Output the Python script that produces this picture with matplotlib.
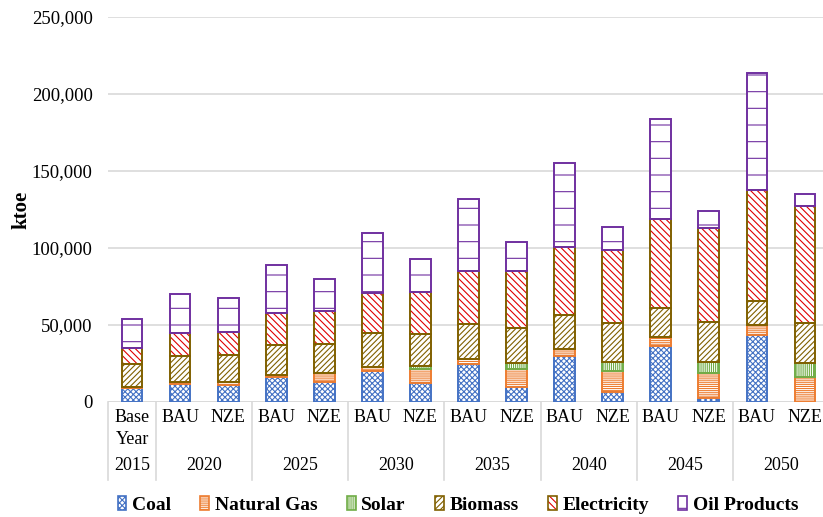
import matplotlib
matplotlib.use("Agg")
import matplotlib.pyplot as plt
from matplotlib.patches import Patch
from matplotlib.ticker import FuncFormatter
import numpy as np

plt.rcParams['font.family'] = ['Liberation Serif', 'DejaVu Serif']
plt.rcParams['hatch.linewidth'] = 0.8

scenarios = ['Base\nYear', 'BAU', 'NZE', 'BAU', 'NZE', 'BAU', 'NZE', 'BAU', 'NZE',
             'BAU', 'NZE', 'BAU', 'NZE', 'BAU', 'NZE']
years = ['2015', '2020', '2025', '2030', '2035', '2040', '2045', '2050']

coal = [8900, 11700, 11000, 16500, 13200, 20400, 12600, 24700, 9500, 30100, 6700, 36600, 2800, 43300, 0]
natural_gas = [600, 1100, 2200, 1300, 5400, 2300, 8600, 3000, 11900, 4300, 13400, 5800, 16300, 6700, 16500]
solar = [0, 0, 0, 0, 300, 0, 2000, 0, 3700, 0, 6100, 0, 6900, 0, 8600]
biomass = [15000, 17100, 17300, 19200, 18900, 21900, 20700, 23000, 23200, 22100, 24900, 18900, 26200, 15600, 26000]
electricity = [10400, 14700, 14700, 20600, 21000, 26400, 27300, 34600, 37000, 44000, 47600, 57600, 61000, 72100, 76400]
oil_products = [19000, 25300, 22100, 31600, 21200, 39000, 21700, 46500, 18600, 54900, 15200, 64900, 11100, 76200, 7400]

series = [
    ('Coal', coal, '#4472C4', '#4472C4', 'xxxxxx'),
    ('Natural Gas', natural_gas, '#ED7D31', '#ED7D31', '--------'),
    ('Solar', solar, '#70AD47', '#70AD47', '||||||||'),
    ('Biomass', biomass, '#806000', '#806000', '//////'),
    ('Electricity', electricity, '#806000', '#E00000', '\\\\\\\\\\'),
    ('Oil Products', oil_products, '#7030A0', '#7030A0', '-'),
]

W, H = 823, 517
fig = plt.figure(figsize=(W / 100, H / 100), dpi=100)
ax_left = 108 / W
ax_right = 829 / W
ax_bottom = 1 - 402 / H
ax_top = 1 - 17 / H
ax = fig.add_axes([ax_left, ax_bottom, ax_right - ax_left, ax_top - ax_bottom])

x = np.arange(len(scenarios))
bw = 0.43
bottom = np.zeros(len(x))
handles = []
for name, vals, edge, hcol, hatch in series:
    v = np.array(vals, dtype=float)
    m = v > 0
    ax.bar(x[m], v[m], bw, bottom=bottom[m], facecolor='white', edgecolor=hcol,
           hatch=hatch, linewidth=0, zorder=3)
    ax.bar(x[m], v[m], bw, bottom=bottom[m], fill=False, edgecolor=edge,
           linewidth=1.4, zorder=4)
    bottom = bottom + v
    h1 = Patch(facecolor='white', edgecolor=hcol, hatch=hatch, linewidth=0)
    h2 = Patch(fill=False, edgecolor=edge, linewidth=1.2)
    handles.append((h1, h2))

ax.set_xlim(-0.5, len(x) - 0.5)
ax.set_ylim(0, 250000)
ax.set_yticks(np.arange(0, 250001, 50000))
ax.yaxis.set_major_formatter(FuncFormatter(lambda v, p: f'{int(v):,}'))
ax.tick_params(axis='y', length=0, pad=11, labelsize=13.5)
ax.set_xticks([])
ax.grid(axis='y', color='#D9D9D9', linewidth=1.2, zorder=0)
for s in ax.spines.values():
    s.set_visible(False)
ax.axhline(0, color='#D9D9D9', linewidth=1.2, zorder=1)
ax.set_ylabel('ktoe', fontsize=15, fontweight='bold', labelpad=0)

axh = (ax_top - ax_bottom) * H
def ay(px):
    return -(px - 402) / axh

trans = ax.get_xaxis_transform()
fs = 13
for i, lab in enumerate(scenarios):
    if '\n' in lab:
        a, b = lab.split('\n')
        ax.text(i, ay(418), a, ha='center', va='center', fontsize=fs, transform=trans, clip_on=False)
        ax.text(i, ay(440), b, ha='center', va='center', fontsize=fs, transform=trans, clip_on=False)
    else:
        ax.text(i, ay(418), lab, ha='center', va='center', fontsize=fs, transform=trans, clip_on=False)

year_centers = [0] + [1.5 + 2 * k for k in range(len(years) - 1)]
for yc, yl in zip(year_centers, years):
    ax.text(yc, ay(465), yl, ha='center', va='center', fontsize=fs, transform=trans, clip_on=False)

seps = [-0.5, 0.5] + [2.5 + 2 * k for k in range(len(years) - 1)]
for s in seps:
    ax.plot([s, s], [0, ay(480)], color='#D9D9D9', linewidth=1.2, transform=trans, clip_on=False)

leg = fig.legend(handles, [s[0] for s in series], loc='center', ncol=6,
                 bbox_to_anchor=(458 / W, 1 - 505 / H), frameon=False,
                 prop={'weight': 'bold', 'size': 14}, handlelength=0.45, handleheight=0.7,
                 handletextpad=0.3, columnspacing=1.5)

fig.savefig('out.png', dpi=100)
